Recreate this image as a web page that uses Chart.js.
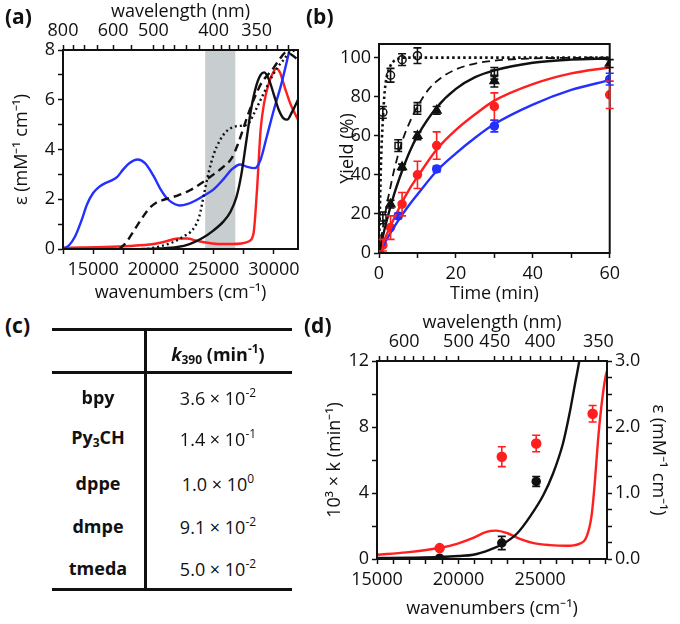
<!DOCTYPE html>
<html>
<head>
<meta charset="utf-8">
<script src="https://cdn.jsdelivr.net/npm/chart.js@4.4.1/dist/chart.umd.min.js"></script>
<style>
  body { margin: 0; background: #fff; font-family: "Open Sans", sans-serif; }
  #wrap { position: relative; width: 680px; height: 624px; overflow: hidden; }
  canvas { position: absolute; }
  .lbl { position: absolute; font-weight: bold; font-size: 21px; color: #111; }
  .rule { position: absolute; background: #111; }
  .cell { position: absolute; font-size: 18px; color: #111; transform: translate(-50%, -50%); white-space: nowrap; }
  .cell.b { font-weight: bold; }
  sup, sub { font-size: 12px; }
  sup { vertical-align: 8px; }
  sub { vertical-align: -3px; }
</style>
</head>
<body>
<div id="wrap">
  <canvas id="chartA" width="310" height="305" style="left:0;top:0"></canvas>
  <canvas id="chartB" width="295" height="305" style="left:330px;top:0"></canvas>
  <canvas id="chartD" width="365" height="319" style="left:315px;top:305px"></canvas>
  <div class="lbl" style="left:5px;top:2px">(a)</div>
  <div class="lbl" style="left:306px;top:2px">(b)</div>
  <div class="lbl" style="left:5px;top:311px">(c)</div>
  <div class="lbl" style="left:304px;top:311px">(d)</div>
  <div id="table"></div>
</div>
<script>
// ---------- (a) absorption spectra ----------
const wnBlue  = [12500, 13000, 13500, 14000, 14500, 15000, 15500, 16000, 16500, 17000, 17500, 18000, 18700, 19300, 20000, 20600, 21200, 21800, 22200, 22800, 23500, 24200, 25000, 25800, 26500, 27200, 27800, 28400, 28900, 29400, 30000, 30600, 31300];
const epsBlue = [0, 0.15, 0.5, 1.1, 1.8, 2.25, 2.5, 2.65, 2.75, 2.9, 3.2, 3.45, 3.6, 3.45, 2.95, 2.4, 2.0, 1.8, 1.75, 1.8, 1.95, 2.15, 2.4, 2.8, 3.2, 3.4, 3.3, 3.25, 3.6, 4.5, 5.6, 6.6, 8.0];
const wnRed   = [12500, 14000, 16000, 18000, 20000, 21000, 22000, 22800, 23600, 24500, 25500, 26500, 27300, 27900, 28300, 28600, 28900, 29200, 29600, 30000, 30200, 30500, 30900, 31400, 32000];
const epsRed  = [0.05, 0.06, 0.08, 0.12, 0.2, 0.3, 0.42, 0.42, 0.33, 0.25, 0.2, 0.2, 0.22, 0.3, 0.6, 2.4, 4.8, 5.9, 6.7, 7.15, 7.25, 7.1, 6.5, 5.8, 5.2];
const wnBlack  = [19000, 20500, 22000, 23000, 24000, 25000, 25800, 26400, 26900, 27300, 27700, 28100, 28500, 28900, 29200, 29600, 30000, 30400, 30800, 31100, 31500, 32000];
const epsBlack = [0, 0.02, 0.08, 0.2, 0.42, 0.75, 1.1, 1.5, 2.1, 3.0, 4.3, 5.6, 6.5, 7.0, 7.1, 6.8, 6.2, 5.6, 5.25, 5.2, 5.5, 6.0];
const wnDash   = [17200, 17800, 18400, 19000, 19600, 20200, 21000, 22000, 23000, 24000, 25000, 25800, 26500, 27000, 27500, 28000, 28500, 29000, 29500, 30000, 30500, 31000, 31500, 32000];
const epsDash  = [0, 0.3, 0.75, 1.2, 1.6, 1.85, 2.0, 2.15, 2.35, 2.65, 3.0, 3.3, 3.65, 4.2, 4.9, 5.6, 6.2, 6.7, 7.0, 7.3, 7.65, 7.9, 7.8, 7.6];
const wnDot    = [19500, 20500, 21500, 22500, 23300, 23800, 24200, 24600, 25000, 25500, 26000, 26600, 27200, 27800, 28300, 28800, 29300, 29800, 30300, 30800, 31300, 32000];
const epsDot   = [0, 0.1, 0.25, 0.5, 0.8, 1.3, 2.2, 3.1, 3.8, 4.35, 4.7, 4.9, 4.95, 5.0, 5.4, 5.9, 6.4, 6.9, 7.3, 7.6, 7.9, 8.0];
const bandA = [24300, 26800];
const wnTicksA = [12500, 15000, 17500, 20000, 22500, 25000, 27500, 30000];
const wnLabelsA = [15000, 20000, 25000, 30000];
const epsTicksA = [0, 1, 2, 3, 4, 5, 6, 7, 8];
const epsLabelsA = [0, 2, 4, 6, 8];
const wlTicksA = [800, 750, 700, 650, 600, 550, 500, 480, 460, 440, 420, 400, 390, 380, 370, 360, 350, 340, 330, 320];
const wlLabelsA = [800, 600, 500, 400, 350];

// ---------- (b) yield vs time ----------
const tFit = [0, 2, 4, 6, 8, 10, 15, 20, 25, 30, 40, 50, 60];
const yFitBlack = [0, 16.5, 30.5, 42, 52, 60, 74.5, 84, 90, 93.5, 97.4, 99, 99.6];
const yFitRed   = [0, 9.5, 18, 26, 33, 39, 53, 63, 71, 78, 86.5, 92, 95];
const yFitBlue  = [0, 7, 13.5, 19.5, 25, 30, 42, 51, 59, 66, 76, 83.5, 88.5];
const tFitDash = [0, 1, 2, 3, 4, 6, 8, 10, 13, 16, 20, 25, 30, 40, 50, 60];
const yFitDash = [0, 13, 24.5, 34, 43, 57, 67, 75, 84, 89.5, 94, 97, 98.5, 99.6, 99.9, 100];
const tFitDot = [0, 0.5, 1, 1.5, 2, 3, 4, 5, 7, 10, 60];
const yFitDot = [0, 45, 68, 83, 90, 96, 98.5, 99.5, 100, 100, 100];
const tCirc = [0, 1, 3, 6, 10];         const yCirc = [0, 72, 91, 99, 101];         const eCirc = [0, 3, 3.5, 3, 4];
const tSq   = [0, 1, 5, 10, 30];        const ySq   = [0, 18, 55, 74, 92];          const eSq   = [0, 3, 3, 3, 3];
const tTri  = [0, 3, 6, 10, 15, 30, 60]; const yTri = [0, 25, 44, 60, 73, 88, 97];   const eTri  = [0, 2, 1.5, 2, 2, 3, 2];
const tRed  = [0, 1, 3, 6, 10, 15, 30, 60]; const yRed = [0, 4, 13, 25, 40, 55, 75, 81]; const eRed = [0, 3, 6, 6, 7, 7, 7, 7];
const tBlue = [0, 5, 15, 30, 60];       const yBlue = [0, 19, 43, 65, 89];          const eBlue = [0, 1.5, 1.5, 3, 3];
const timeTicks = [0, 10, 20, 30, 40, 50, 60];
const timeLabels = [0, 20, 40, 60];
const yieldTicks = [0, 20, 40, 60, 80, 100];

// ---------- (c) rate constants ----------
const ligandNames = ['bpy', 'Py<sub>3</sub>CH', 'dppe', 'dmpe', 'tmeda'];
const kMantissa = ['3.6', '1.4', '1.0', '9.1', '5.0'];
const kExponent = ['-2', '-1', '0', '-2', '-2'];

// ---------- (d) action spectrum ----------
const wnBlackD  = [15000, 17000, 18900, 20000, 20900, 21900, 22800, 23600, 24400, 25200, 25800, 26400, 26800, 27100, 27400, 27700];
const epsBlackD = [0.015, 0.02, 0.03, 0.045, 0.065, 0.14, 0.24, 0.39, 0.65, 0.97, 1.3, 1.75, 2.2, 2.6, 3.0, 3.5];
const wnRedD  = [15000, 16800, 18900, 19900, 20900, 21700, 22300, 23000, 23800, 24600, 25600, 26600, 27400, 27850, 28150, 28350, 28550, 28750, 29000, 29100];
const epsRedD = [0.065, 0.1, 0.17, 0.23, 0.32, 0.41, 0.43, 0.39, 0.3, 0.24, 0.21, 0.2, 0.23, 0.34, 0.65, 1.15, 1.8, 2.3, 2.75, 2.85];
const wnPtsRed = [18840, 22650, 24760, 28220];
const kRed = [0.66, 6.2, 7.0, 8.8];   const kRedErr = [0, 0.6, 0.5, 0.5];
const wnPtsBlack = [18840, 22650, 24760];
const kBlack = [0.05, 0.97, 4.7];     const kBlackErr = [0, 0.4, 0.3];
const wnTicksD = [15000, 16000, 17000, 18000, 19000, 20000, 21000, 22000, 23000, 24000, 25000, 26000, 27000, 28000, 29000];
const wnLabelsD = [15000, 20000, 25000];
const kTicksD = [0, 2, 4, 6, 8, 10, 12];
const kLabelsD = [0, 4, 8, 12];
const epsTicksD = [0, 0.25, 0.5, 0.75, 1, 1.25, 1.5, 1.75, 2, 2.25, 2.5, 2.75, 3];
const epsLabelsD = [0, 1, 2, 3];
const wlTicksD = [660, 640, 620, 600, 580, 560, 540, 520, 500, 450, 440, 430, 420, 410, 400, 390, 380, 370, 360, 350];
const wlLabelsD = [600, 500, 450, 400, 350];

const BLUE = '#2330ff';
const RED = '#ff1f1f';
const INK = '#111111';
const FONT = { family: '"Open Sans", sans-serif', size: 18, lineHeight: 1.2 };

Chart.defaults.font.family = FONT.family;
Chart.defaults.color = INK;

const pts = (xs, ys) => xs.map((x, i) => ({ x: x, y: ys[i] }));

// fixed tick positions and labels from the arrays above
function fixedTicks(values) {
  return axis => { axis.ticks = values.map(v => ({ value: v })); };
}
function wavelengthTicks(wls) {
  return axis => { axis.ticks = wls.map(w => ({ value: 1e7 / w })); };
}

function axisBase(extra) {
  return Object.assign({
    type: 'linear',
    grid: { drawOnChartArea: false, drawTicks: true, tickLength: 5, tickColor: INK, tickWidth: 1.5 },
    border: { display: true, color: INK, width: 2 },
    ticks: { font: FONT, color: INK, autoSkip: false, maxRotation: 0, padding: 3 }
  }, extra);
}

// frame round the plot area
const framePlugin = {
  id: 'frame',
  afterDatasetsDraw(chart) {
    const a = chart.chartArea, ctx = chart.ctx;
    ctx.save();
    ctx.strokeStyle = INK;
    ctx.lineWidth = 2;
    ctx.strokeRect(a.left, a.top, a.right - a.left, a.bottom - a.top);
    ctx.restore();
  }
};

// shaded wavenumber band
const bandPlugin = {
  id: 'band',
  beforeDatasetsDraw(chart, args, opts) {
    if (!opts.range) return;
    const x = chart.scales.x, a = chart.chartArea, ctx = chart.ctx;
    const x0 = x.getPixelForValue(opts.range[0]), x1 = x.getPixelForValue(opts.range[1]);
    ctx.save();
    ctx.fillStyle = opts.color;
    ctx.fillRect(x0, a.top, x1 - x0, a.bottom - a.top);
    ctx.restore();
  }
};

// vertical error bars with caps
const errorBarPlugin = {
  id: 'errorBars',
  afterDatasetsDraw(chart) {
    const ctx = chart.ctx;
    chart.data.datasets.forEach((ds, i) => {
      if (!ds.errorBars) return;
      const meta = chart.getDatasetMeta(i);
      const ys = chart.scales[meta.yAxisID];
      ctx.save();
      ctx.strokeStyle = ds.errorColor || ds.borderColor;
      ctx.lineWidth = 1.6;
      meta.data.forEach((el, j) => {
        const err = ds.errorBars[j];
        if (!err) return;
        const v = ds.data[j].y;
        const top = ys.getPixelForValue(v + err), bot = ys.getPixelForValue(v - err);
        const cx = el.x, cap = 4;
        ctx.beginPath();
        ctx.moveTo(cx, top); ctx.lineTo(cx, bot);
        ctx.moveTo(cx - cap, top); ctx.lineTo(cx + cap, top);
        ctx.moveTo(cx - cap, bot); ctx.lineTo(cx + cap, bot);
        ctx.stroke();
      });
      ctx.restore();
    });
  }
};

function curve(xs, ys, color, dash, extra) {
  return Object.assign({
    data: pts(xs, ys),
    borderColor: color,
    borderWidth: 2.4,
    borderDash: dash || [],
    pointRadius: 0,
    fill: false,
    cubicInterpolationMode: 'monotone'
  }, extra);
}

function markers(xs, ys, errs, color, style, fillColor, extra) {
  return Object.assign({
    type: 'scatter',
    data: pts(xs, ys),
    showLine: false,
    borderColor: color,
    backgroundColor: fillColor,
    pointStyle: style,
    pointRadius: 4,
    pointBorderWidth: 1.5,
    errorBars: errs
  }, extra);
}

const commonOpts = {
  responsive: false,
  animation: false,
  events: [],
  plugins: { legend: { display: false }, tooltip: { enabled: false } }
};

// ---------- chart (a) ----------
new Chart(document.getElementById('chartA'), {
  type: 'line',
  data: {
    datasets: [
      curve(wnDot, epsDot, INK, [2, 3]),
      curve(wnDash, epsDash, INK, [8, 5]),
      curve(wnBlack, epsBlack, INK),
      curve(wnBlue, epsBlue, BLUE),
      curve(wnRed, epsRed, RED)
    ]
  },
  options: Object.assign({}, commonOpts, {
    layout: { padding: { left: 0, right: 12, top: 0, bottom: 0 } },
    plugins: Object.assign({}, commonOpts.plugins, { band: { range: bandA, color: '#c8cdd0' } }),
    scales: {
      x: axisBase({
        position: 'bottom', min: 12500, max: 32000,
        afterBuildTicks: fixedTicks(wnTicksA),
        afterFit: s => { s.height = 56; },
        ticks: { font: FONT, color: INK, autoSkip: false, maxRotation: 0, padding: 5,
                 callback: v => wnLabelsA.includes(v) ? String(v) : '' },
        title: { display: true, text: 'wavenumbers (cm\u207B\u00B9)', font: FONT, color: INK, padding: { top: 0, bottom: 1 } }
      }),
      xTop: axisBase({
        position: 'top', min: 12500, max: 32000,
        afterBuildTicks: wavelengthTicks(wlTicksA),
        afterFit: s => { s.height = 50; },
        ticks: { font: FONT, color: INK, autoSkip: false, maxRotation: 0, padding: 3,
                 callback: v => { const w = Math.round(1e7 / v); return wlLabelsA.includes(w) ? String(w) : ''; } },
        title: { display: true, text: 'wavelength (nm)', font: FONT, color: INK, padding: { top: 1, bottom: 0 } }
      }),
      y: axisBase({
        position: 'left', min: 0, max: 8,
        afterBuildTicks: fixedTicks(epsTicksA),
        afterFit: s => { s.width = 63; },
        ticks: { font: FONT, color: INK, autoSkip: false, padding: 3,
                 callback: v => epsLabelsA.includes(v) ? String(v) : '' },
        title: { display: true, text: '\u03B5 (mM\u207B\u00B9 cm\u207B\u00B9)', font: FONT, color: INK, padding: { top: 11, bottom: 0 } }
      })
    }
  }),
  plugins: [bandPlugin, framePlugin]
});

// ---------- chart (b) ----------
new Chart(document.getElementById('chartB'), {
  type: 'line',
  data: {
    datasets: [
      curve(tFitDot, yFitDot, INK, [2.5, 3], { borderWidth: 2.6 }),
      curve(tFitDash, yFitDash, INK, [8, 5], { borderWidth: 1.8 }),
      curve(tFit, yFitBlack, INK),
      curve(tFit, yFitRed, RED),
      curve(tFit, yFitBlue, BLUE),
      markers(tCirc, yCirc, eCirc, INK, 'circle', 'rgba(255,255,255,0)'),
      markers(tSq, ySq, eSq, INK, 'rect', 'rgba(255,255,255,0)', { pointRadius: 4.5 }),
      markers(tTri, yTri, eTri, INK, 'triangle', INK, { pointRadius: 5 }),
      markers(tRed, yRed, eRed, RED, 'circle', RED),
      markers(tBlue, yBlue, eBlue, BLUE, 'circle', BLUE)
    ]
  },
  options: Object.assign({}, commonOpts, {
    layout: { padding: { left: 0, right: 13, top: 44, bottom: 0 } },
    scales: {
      x: axisBase({
        position: 'bottom', min: 0, max: 60,
        afterBuildTicks: fixedTicks(timeTicks),
        afterFit: s => { s.height = 52; },
        ticks: { font: FONT, color: INK, autoSkip: false, maxRotation: 0, padding: 5,
                 callback: v => timeLabels.includes(v) ? String(v) : '' },
        title: { display: true, text: 'Time (min)', font: FONT, color: INK, padding: { top: 0, bottom: 0 } }
      }),
      y: axisBase({
        position: 'left', min: 0, max: 107,
        afterBuildTicks: fixedTicks(yieldTicks),
        afterFit: s => { s.width = 49; },
        ticks: { font: FONT, color: INK, autoSkip: false, padding: 3, callback: v => String(v) },
        title: { display: true, text: 'Yield (%)', font: FONT, color: INK, padding: { top: 7, bottom: 0 } }
      })
    }
  }),
  plugins: [framePlugin, errorBarPlugin]
});

// ---------- chart (d) ----------
new Chart(document.getElementById('chartD'), {
  type: 'line',
  data: {
    datasets: [
      curve(wnBlackD, epsBlackD, INK, null, { yAxisID: 'y2' }),
      curve(wnRedD, epsRedD, RED, null, { yAxisID: 'y2' }),
      markers(wnPtsBlack, kBlack, kBlackErr, INK, 'circle', INK, { yAxisID: 'y' }),
      markers(wnPtsRed, kRed, kRedErr, RED, 'circle', RED, { yAxisID: 'y', pointRadius: 4.5 })
    ]
  },
  options: Object.assign({}, commonOpts, {
    layout: { padding: 0 },
    scales: {
      x: axisBase({
        position: 'bottom', min: 15000, max: 29100,
        afterBuildTicks: fixedTicks(wnTicksD),
        afterFit: s => { s.height = 65; },
        ticks: { font: FONT, color: INK, autoSkip: false, maxRotation: 0, padding: 5,
                 callback: v => wnLabelsD.includes(v) ? String(v) : '' },
        title: { display: true, text: 'wavenumbers (cm\u207B\u00B9)', font: FONT, color: INK, padding: { top: 0, bottom: 4 } }
      }),
      xTop: axisBase({
        position: 'top', min: 15000, max: 29100,
        afterBuildTicks: wavelengthTicks(wlTicksD),
        afterFit: s => { s.height = 56; },
        ticks: { font: FONT, color: INK, autoSkip: false, maxRotation: 0, padding: 3,
                 callback: v => { const w = Math.round(1e7 / v); return wlLabelsD.includes(w) ? String(w) : ''; } },
        title: { display: true, text: 'wavelength (nm)', font: FONT, color: INK, padding: { top: 7, bottom: 0 } }
      }),
      y: axisBase({
        position: 'left', min: 0, max: 12,
        afterBuildTicks: fixedTicks(kTicksD),
        afterFit: s => { s.width = 62; },
        ticks: { font: FONT, color: INK, autoSkip: false, padding: 3,
                 callback: v => kLabelsD.includes(v) ? String(v) : '' },
        title: { display: true, text: '10\u00B3 \u00D7 k (min\u207B\u00B9)', font: FONT, color: INK, padding: { top: 9, bottom: 0 } }
      }),
      y2: axisBase({
        position: 'right', min: 0, max: 3,
        afterBuildTicks: fixedTicks(epsTicksD),
        afterFit: s => { s.width = 73; },
        ticks: { font: FONT, color: INK, autoSkip: false, padding: 3,
                 callback: v => epsLabelsD.includes(v) ? v.toFixed(1) : '' },
        title: { display: true, text: '\u03B5 (mM\u207B\u00B9 cm\u207B\u00B9)', font: FONT, color: INK, padding: { top: 11, bottom: 0 } }
      })
    }
  }),
  plugins: [framePlugin, errorBarPlugin]
});

// ---------- table (c) ----------
(function buildTable() {
  const host = document.getElementById('table');
  const rowY = [397, 438, 483, 526, 568];
  let html = '';
  html += '<div class="rule" style="left:52px;top:328px;width:240px;height:2.5px"></div>';
  html += '<div class="rule" style="left:52px;top:371px;width:240px;height:2.5px"></div>';
  html += '<div class="rule" style="left:52px;top:588px;width:240px;height:2.5px"></div>';
  html += '<div class="rule" style="left:144px;top:329px;width:2.5px;height:260px"></div>';
  html += '<div class="cell b" style="left:218px;top:354px"><i>k</i><sub>390</sub> (min<sup>-1</sup>)</div>';
  ligandNames.forEach((name, i) => {
    html += '<div class="cell b" style="left:98px;top:' + rowY[i] + 'px">' + name + '</div>';
    html += '<div class="cell" style="left:218px;top:' + rowY[i] + 'px">' + kMantissa[i] +
            ' \u00D7 10<sup>' + kExponent[i] + '</sup></div>';
  });
  host.innerHTML = html;
})();
</script>
</body>
</html>
